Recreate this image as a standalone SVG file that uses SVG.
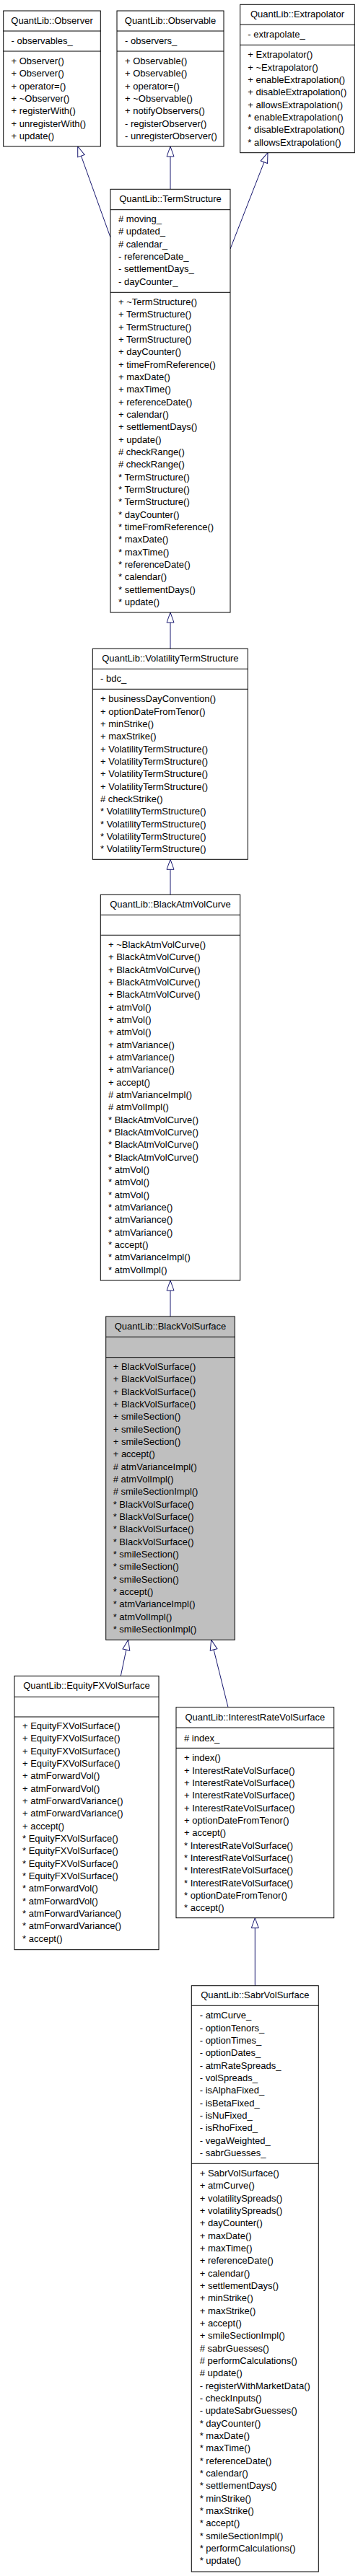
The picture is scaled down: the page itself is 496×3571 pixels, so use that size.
<svg xmlns="http://www.w3.org/2000/svg" width="496" height="3571" viewBox="0 0 496 3571">
<style>
.box{fill:#ffffff;stroke:#000000;stroke-width:1}
.cur{fill:#bfbfbf}
.div{stroke:#000000;stroke-width:1;fill:none}
text{font-family:"Liberation Sans",Arial,Helvetica,sans-serif;font-size:13px;fill:#000000}
.t{text-anchor:middle}
.edge{stroke:#191970;stroke-width:1;fill:none;marker-end:url(#inh)}
</style>
<defs>
<marker id="inh" markerUnits="userSpaceOnUse" markerWidth="16" markerHeight="12" refX="14" refY="5" orient="auto" overflow="visible">
<path d="M0,0 L14,5 L0,10 Z" fill="#ffffff" stroke="#191970" stroke-width="1"/>
</marker>
</defs>
<rect x="0" y="0" width="496" height="3571" fill="#ffffff"/>

<g id="connectors">
<path class="edge" d="M153,329 L107.7,203"/>
<path class="edge" d="M236,262.3 L236,203"/>
<path class="edge" d="M319,345 L371,211.7"/>
<path class="edge" d="M236,899.3 L236,849"/>
<path class="edge" d="M236,1240.3 L236,1191.3"/>
<path class="edge" d="M236,1825 L236,1775"/>
<path class="edge" d="M167.3,2323.3 L177.7,2273.3"/>
<path class="edge" d="M316,2366.7 L292.7,2273.3"/>
<path class="edge" d="M353.3,2752.7 L353.3,2658.7"/>
</g>

<g id="observer">
<rect class="box" x="4.7" y="15" width="134.6" height="188"/>
<path class="div" d="M4.7,43 H139.3 M4.7,71 H139.3"/>
<text class="t" x="72" y="33">QuantLib::Observer</text>
<text x="15.5" y="61.3">- observables_</text>
<text x="15.5" y="89"><tspan x="15.5">+ Observer()</tspan><tspan x="15.5" dy="17.33">+ Observer()</tspan><tspan x="15.5" dy="17.33">+ operator=()</tspan><tspan x="15.5" dy="17.33">+ ~Observer()</tspan><tspan x="15.5" dy="17.33">+ registerWith()</tspan><tspan x="15.5" dy="17.33">+ unregisterWith()</tspan><tspan x="15.5" dy="17.33">+ update()</tspan></text>
</g>

<g id="observable">
<rect class="box" x="162" y="15" width="148" height="188"/>
<path class="div" d="M162,43 H310 M162,71 H310"/>
<text class="t" x="236" y="33">QuantLib::Observable</text>
<text x="173" y="61.3">- observers_</text>
<text x="173" y="89"><tspan x="173">+ Observable()</tspan><tspan x="173" dy="17.33">+ Observable()</tspan><tspan x="173" dy="17.33">+ operator=()</tspan><tspan x="173" dy="17.33">+ ~Observable()</tspan><tspan x="173" dy="17.33">+ notifyObservers()</tspan><tspan x="173" dy="17.33">- registerObserver()</tspan><tspan x="173" dy="17.33">- unregisterObserver()</tspan></text>
</g>

<g id="extrapolator">
<rect class="box" x="332.7" y="6.3" width="158.6" height="205.4"/>
<path class="div" d="M332.7,34 H491.3 M332.7,62.3 H491.3"/>
<text class="t" x="412" y="24.3">QuantLib::Extrapolator</text>
<text x="343.3" y="52.3">- extrapolate_</text>
<text x="343.3" y="80.3"><tspan x="343.3">+ Extrapolator()</tspan><tspan x="343.3" dy="17.33">+ ~Extrapolator()</tspan><tspan x="343.3" dy="17.33">+ enableExtrapolation()</tspan><tspan x="343.3" dy="17.33">+ disableExtrapolation()</tspan><tspan x="343.3" dy="17.33">+ allowsExtrapolation()</tspan><tspan x="343.3" dy="17.33">* enableExtrapolation()</tspan><tspan x="343.3" dy="17.33">* disableExtrapolation()</tspan><tspan x="343.3" dy="17.33">* allowsExtrapolation()</tspan></text>
</g>

<g id="termstructure">
<rect class="box" x="153" y="262.3" width="166" height="586.7"/>
<path class="div" d="M153,290.7 H319 M153,405.3 H319"/>
<text class="t" x="236" y="280">QuantLib::TermStructure</text>
<text x="164" y="308"><tspan x="164"># moving_</tspan><tspan x="164" dy="17.33"># updated_</tspan><tspan x="164" dy="17.33"># calendar_</tspan><tspan x="164" dy="17.33">- referenceDate_</tspan><tspan x="164" dy="17.33">- settlementDays_</tspan><tspan x="164" dy="17.33">- dayCounter_</tspan></text>
<text x="164" y="423"><tspan x="164">+ ~TermStructure()</tspan><tspan x="164" dy="17.33">+ TermStructure()</tspan><tspan x="164" dy="17.33">+ TermStructure()</tspan><tspan x="164" dy="17.33">+ TermStructure()</tspan><tspan x="164" dy="17.33">+ dayCounter()</tspan><tspan x="164" dy="17.33">+ timeFromReference()</tspan><tspan x="164" dy="17.33">+ maxDate()</tspan><tspan x="164" dy="17.33">+ maxTime()</tspan><tspan x="164" dy="17.33">+ referenceDate()</tspan><tspan x="164" dy="17.33">+ calendar()</tspan><tspan x="164" dy="17.33">+ settlementDays()</tspan><tspan x="164" dy="17.33">+ update()</tspan><tspan x="164" dy="17.33"># checkRange()</tspan><tspan x="164" dy="17.33"># checkRange()</tspan><tspan x="164" dy="17.33">* TermStructure()</tspan><tspan x="164" dy="17.33">* TermStructure()</tspan><tspan x="164" dy="17.33">* TermStructure()</tspan><tspan x="164" dy="17.33">* dayCounter()</tspan><tspan x="164" dy="17.33">* timeFromReference()</tspan><tspan x="164" dy="17.33">* maxDate()</tspan><tspan x="164" dy="17.33">* maxTime()</tspan><tspan x="164" dy="17.33">* referenceDate()</tspan><tspan x="164" dy="17.33">* calendar()</tspan><tspan x="164" dy="17.33">* settlementDays()</tspan><tspan x="164" dy="17.33">* update()</tspan></text>
</g>

<g id="volatilitytermstructure">
<rect class="box" x="128.3" y="899.3" width="215" height="292"/>
<path class="div" d="M128.3,927.3 H343.3 M128.3,955.3 H343.3"/>
<text class="t" x="235.8" y="917">QuantLib::VolatilityTermStructure</text>
<text x="139" y="945">- bdc_</text>
<text x="139" y="973.3"><tspan x="139">+ businessDayConvention()</tspan><tspan x="139" dy="17.33">+ optionDateFromTenor()</tspan><tspan x="139" dy="17.33">+ minStrike()</tspan><tspan x="139" dy="17.33">+ maxStrike()</tspan><tspan x="139" dy="17.33">+ VolatilityTermStructure()</tspan><tspan x="139" dy="17.33">+ VolatilityTermStructure()</tspan><tspan x="139" dy="17.33">+ VolatilityTermStructure()</tspan><tspan x="139" dy="17.33">+ VolatilityTermStructure()</tspan><tspan x="139" dy="17.33"># checkStrike()</tspan><tspan x="139" dy="17.33">* VolatilityTermStructure()</tspan><tspan x="139" dy="17.33">* VolatilityTermStructure()</tspan><tspan x="139" dy="17.33">* VolatilityTermStructure()</tspan><tspan x="139" dy="17.33">* VolatilityTermStructure()</tspan></text>
</g>

<g id="blackatmvolcurve">
<rect class="box" x="139.3" y="1240.3" width="193.4" height="534.7"/>
<path class="div" d="M139.3,1268.3 H332.7 M139.3,1296.3 H332.7"/>
<text class="t" x="236" y="1258">QuantLib::BlackAtmVolCurve</text>
<text x="150" y="1314"><tspan x="150">+ ~BlackAtmVolCurve()</tspan><tspan x="150" dy="17.33">+ BlackAtmVolCurve()</tspan><tspan x="150" dy="17.33">+ BlackAtmVolCurve()</tspan><tspan x="150" dy="17.33">+ BlackAtmVolCurve()</tspan><tspan x="150" dy="17.33">+ BlackAtmVolCurve()</tspan><tspan x="150" dy="17.33">+ atmVol()</tspan><tspan x="150" dy="17.33">+ atmVol()</tspan><tspan x="150" dy="17.33">+ atmVol()</tspan><tspan x="150" dy="17.33">+ atmVariance()</tspan><tspan x="150" dy="17.33">+ atmVariance()</tspan><tspan x="150" dy="17.33">+ atmVariance()</tspan><tspan x="150" dy="17.33">+ accept()</tspan><tspan x="150" dy="17.33"># atmVarianceImpl()</tspan><tspan x="150" dy="17.33"># atmVolImpl()</tspan><tspan x="150" dy="17.33">* BlackAtmVolCurve()</tspan><tspan x="150" dy="17.33">* BlackAtmVolCurve()</tspan><tspan x="150" dy="17.33">* BlackAtmVolCurve()</tspan><tspan x="150" dy="17.33">* BlackAtmVolCurve()</tspan><tspan x="150" dy="17.33">* atmVol()</tspan><tspan x="150" dy="17.33">* atmVol()</tspan><tspan x="150" dy="17.33">* atmVol()</tspan><tspan x="150" dy="17.33">* atmVariance()</tspan><tspan x="150" dy="17.33">* atmVariance()</tspan><tspan x="150" dy="17.33">* atmVariance()</tspan><tspan x="150" dy="17.33">* accept()</tspan><tspan x="150" dy="17.33">* atmVarianceImpl()</tspan><tspan x="150" dy="17.33">* atmVolImpl()</tspan></text>
</g>

<g id="blackvolsurface">
<rect class="box cur" x="146.7" y="1825" width="178.6" height="448.3"/>
<path class="div" d="M146.7,1853.3 H325.3 M146.7,1881.7 H325.3"/>
<text class="t" x="236" y="1843">QuantLib::BlackVolSurface</text>
<text x="156.7" y="1899"><tspan x="156.7">+ BlackVolSurface()</tspan><tspan x="156.7" dy="17.33">+ BlackVolSurface()</tspan><tspan x="156.7" dy="17.33">+ BlackVolSurface()</tspan><tspan x="156.7" dy="17.33">+ BlackVolSurface()</tspan><tspan x="156.7" dy="17.33">+ smileSection()</tspan><tspan x="156.7" dy="17.33">+ smileSection()</tspan><tspan x="156.7" dy="17.33">+ smileSection()</tspan><tspan x="156.7" dy="17.33">+ accept()</tspan><tspan x="156.7" dy="17.33"># atmVarianceImpl()</tspan><tspan x="156.7" dy="17.33"># atmVolImpl()</tspan><tspan x="156.7" dy="17.33"># smileSectionImpl()</tspan><tspan x="156.7" dy="17.33">* BlackVolSurface()</tspan><tspan x="156.7" dy="17.33">* BlackVolSurface()</tspan><tspan x="156.7" dy="17.33">* BlackVolSurface()</tspan><tspan x="156.7" dy="17.33">* BlackVolSurface()</tspan><tspan x="156.7" dy="17.33">* smileSection()</tspan><tspan x="156.7" dy="17.33">* smileSection()</tspan><tspan x="156.7" dy="17.33">* smileSection()</tspan><tspan x="156.7" dy="17.33">* accept()</tspan><tspan x="156.7" dy="17.33">* atmVarianceImpl()</tspan><tspan x="156.7" dy="17.33">* atmVolImpl()</tspan><tspan x="156.7" dy="17.33">* smileSectionImpl()</tspan></text>
</g>

<g id="equityfxvolsurface">
<rect class="box" x="20" y="2323.3" width="200" height="379.4"/>
<path class="div" d="M20,2352.3 H220 M20,2380 H220"/>
<text class="t" x="120" y="2341.3">QuantLib::EquityFXVolSurface</text>
<text x="31" y="2397"><tspan x="31">+ EquityFXVolSurface()</tspan><tspan x="31" dy="17.33">+ EquityFXVolSurface()</tspan><tspan x="31" dy="17.33">+ EquityFXVolSurface()</tspan><tspan x="31" dy="17.33">+ EquityFXVolSurface()</tspan><tspan x="31" dy="17.33">+ atmForwardVol()</tspan><tspan x="31" dy="17.33">+ atmForwardVol()</tspan><tspan x="31" dy="17.33">+ atmForwardVariance()</tspan><tspan x="31" dy="17.33">+ atmForwardVariance()</tspan><tspan x="31" dy="17.33">+ accept()</tspan><tspan x="31" dy="17.33">* EquityFXVolSurface()</tspan><tspan x="31" dy="17.33">* EquityFXVolSurface()</tspan><tspan x="31" dy="17.33">* EquityFXVolSurface()</tspan><tspan x="31" dy="17.33">* EquityFXVolSurface()</tspan><tspan x="31" dy="17.33">* atmForwardVol()</tspan><tspan x="31" dy="17.33">* atmForwardVol()</tspan><tspan x="31" dy="17.33">* atmForwardVariance()</tspan><tspan x="31" dy="17.33">* atmForwardVariance()</tspan><tspan x="31" dy="17.33">* accept()</tspan></text>
</g>

<g id="interestratevolsurface">
<rect class="box" x="244" y="2366.7" width="218.7" height="292"/>
<path class="div" d="M244,2395 H462.7 M244,2423.3 H462.7"/>
<text class="t" x="353.3" y="2385.3">QuantLib::InterestRateVolSurface</text>
<text x="255" y="2413.6"># index_</text>
<text x="255" y="2441.3"><tspan x="255">+ index()</tspan><tspan x="255" dy="17.33">+ InterestRateVolSurface()</tspan><tspan x="255" dy="17.33">+ InterestRateVolSurface()</tspan><tspan x="255" dy="17.33">+ InterestRateVolSurface()</tspan><tspan x="255" dy="17.33">+ InterestRateVolSurface()</tspan><tspan x="255" dy="17.33">+ optionDateFromTenor()</tspan><tspan x="255" dy="17.33">+ accept()</tspan><tspan x="255" dy="17.33">* InterestRateVolSurface()</tspan><tspan x="255" dy="17.33">* InterestRateVolSurface()</tspan><tspan x="255" dy="17.33">* InterestRateVolSurface()</tspan><tspan x="255" dy="17.33">* InterestRateVolSurface()</tspan><tspan x="255" dy="17.33">* optionDateFromTenor()</tspan><tspan x="255" dy="17.33">* accept()</tspan></text>
</g>

<g id="sabrvolsurface">
<rect class="box" x="265.3" y="2752.7" width="176" height="812.3"/>
<path class="div" d="M265.3,2780.3 H441.3 M265.3,2999.3 H441.3"/>
<text class="t" x="353.3" y="2770.3">QuantLib::SabrVolSurface</text>
<text x="276.7" y="2798.3"><tspan x="276.7">- atmCurve_</tspan><tspan x="276.7" dy="17.33">- optionTenors_</tspan><tspan x="276.7" dy="17.33">- optionTimes_</tspan><tspan x="276.7" dy="17.33">- optionDates_</tspan><tspan x="276.7" dy="17.33">- atmRateSpreads_</tspan><tspan x="276.7" dy="17.33">- volSpreads_</tspan><tspan x="276.7" dy="17.33">- isAlphaFixed_</tspan><tspan x="276.7" dy="17.33">- isBetaFixed_</tspan><tspan x="276.7" dy="17.33">- isNuFixed_</tspan><tspan x="276.7" dy="17.33">- isRhoFixed_</tspan><tspan x="276.7" dy="17.33">- vegaWeighted_</tspan><tspan x="276.7" dy="17.33">- sabrGuesses_</tspan></text>
<text x="276.7" y="3017"><tspan x="276.7">+ SabrVolSurface()</tspan><tspan x="276.7" dy="17.33">+ atmCurve()</tspan><tspan x="276.7" dy="17.33">+ volatilitySpreads()</tspan><tspan x="276.7" dy="17.33">+ volatilitySpreads()</tspan><tspan x="276.7" dy="17.33">+ dayCounter()</tspan><tspan x="276.7" dy="17.33">+ maxDate()</tspan><tspan x="276.7" dy="17.33">+ maxTime()</tspan><tspan x="276.7" dy="17.33">+ referenceDate()</tspan><tspan x="276.7" dy="17.33">+ calendar()</tspan><tspan x="276.7" dy="17.33">+ settlementDays()</tspan><tspan x="276.7" dy="17.33">+ minStrike()</tspan><tspan x="276.7" dy="17.33">+ maxStrike()</tspan><tspan x="276.7" dy="17.33">+ accept()</tspan><tspan x="276.7" dy="17.33">+ smileSectionImpl()</tspan><tspan x="276.7" dy="17.33"># sabrGuesses()</tspan><tspan x="276.7" dy="17.33"># performCalculations()</tspan><tspan x="276.7" dy="17.33"># update()</tspan><tspan x="276.7" dy="17.33">- registerWithMarketData()</tspan><tspan x="276.7" dy="17.33">- checkInputs()</tspan><tspan x="276.7" dy="17.33">- updateSabrGuesses()</tspan><tspan x="276.7" dy="17.33">* dayCounter()</tspan><tspan x="276.7" dy="17.33">* maxDate()</tspan><tspan x="276.7" dy="17.33">* maxTime()</tspan><tspan x="276.7" dy="17.33">* referenceDate()</tspan><tspan x="276.7" dy="17.33">* calendar()</tspan><tspan x="276.7" dy="17.33">* settlementDays()</tspan><tspan x="276.7" dy="17.33">* minStrike()</tspan><tspan x="276.7" dy="17.33">* maxStrike()</tspan><tspan x="276.7" dy="17.33">* accept()</tspan><tspan x="276.7" dy="17.33">* smileSectionImpl()</tspan><tspan x="276.7" dy="17.33">* performCalculations()</tspan><tspan x="276.7" dy="17.33">* update()</tspan></text>
</g>
</svg>
